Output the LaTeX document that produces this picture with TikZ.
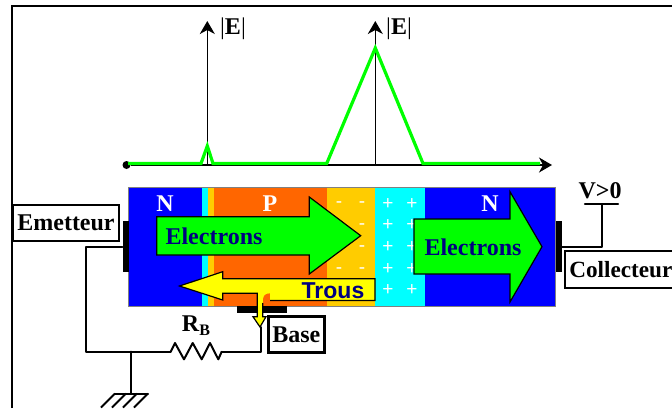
\documentclass[tikz,border=0pt]{standalone}
\usepackage{fontspec}
\setmainfont{Liberation Serif}
\setsansfont{Liberation Sans}
\usepackage{xcolor}
\usetikzlibrary{arrows.meta}
\definecolor{typeN}{HTML}{0000FF}
\definecolor{spaceP}{HTML}{00FFFF}
\definecolor{spaceN}{HTML}{FFCC00}
\definecolor{typeP}{HTML}{FF6600}
\definecolor{elec}{HTML}{00FF00}
\definecolor{hole}{HTML}{FFFF00}
\definecolor{ink}{HTML}{000080}
\tikzset{
  wire/.style={draw=black, line width=2pt, line cap=round, line join=round},
  frame/.style={draw=black, line width=2.4pt},
  axe/.style={draw=black, line width=1.3pt, -{Stealth[length=13pt,width=15pt,inset=4pt]}},
  field/.style={draw=elec, line width=3.2pt, line join=miter},
  flow/.style={draw=black, line width=1.2pt, line join=miter},
  contact/.style={fill=black, inner sep=0pt, minimum width=#1},
  lab/.style={text=black, font=\fontsize{24}{24}\selectfont\bfseries, inner sep=0pt},
  labw/.style={text=white, font=\fontsize{24}{24}\selectfont\bfseries, inner sep=0pt},
  labe/.style={text=ink, font=\fontsize{24}{24}\selectfont\bfseries, inner sep=0pt},
  sign/.style={text=white, font=\fontsize{19}{19}\selectfont\sffamily, inner sep=0pt},
  tag/.style={draw=black, fill=white, line width=2pt, inner sep=0pt, font=\fontsize{24}{24}\selectfont\bfseries},
}
\begin{document}
\begin{tikzpicture}[x=1pt,y=-1pt]
\useasboundingbox (0,0) rectangle (672,408);
\draw[frame] (12,408) -- (12,6) -- (672,6);

% champ
\node[circle, fill=black, inner sep=0pt, minimum size=8pt] (origin) at (126.5,165) {};
\coordinate (xend) at (552,165);
\coordinate (jeB) at (207.3,165);
\coordinate (jeBtop) at (207.3,21);
\coordinate (jc) at (375.3,165);
\coordinate (jctop) at (375.3,21);
\draw[axe] (origin) -- (xend);
\draw[axe] (jeB) -- (jeBtop);
\draw[axe] (jc) -- (jctop);
\draw[field] (128,163.5) -- (201,163.5) -- (207.3,146) -- (213,163.5) -- (326.7,163.5) -- (375.3,48) -- (423,163.5) -- (540,163.5);
\node[lab] (e1) at (233,29) {{\mdseries|}E{\mdseries|}};
\node[lab] (e2) at (399,29) {{\mdseries|}E{\mdseries|}};

% transistor
\fill[typeN] (128.5,187) rectangle (202,306);
\fill[spaceP] (202,187) rectangle (208,306);
\fill[spaceN] (208,187) rectangle (214,306);
\fill[typeP] (214,187) rectangle (327,306);
\fill[spaceN] (327,187) rectangle (375,306);
\fill[spaceP] (375,187) rectangle (425,306);
\fill[typeN] (425,187) rectangle (555,306);
\draw[draw=gray, line width=0.8pt] (128.5,187) rectangle (555,306);
\foreach \y in {205,227,249,271}{
  \node[sign] at (339,\y) {-};
  \node[sign] at (362,\y) {-};
}
\foreach \y in {204,225.5,247.5,269,290}{
  \node[sign] at (388,\y) {+};
  \node[sign] at (412,\y) {+};
}
\node[labw] (n1) at (165,204) {N};
\node[labw] (p1) at (270,204) {P};
\node[labw] (n2) at (490,204) {N};

% contacts
\node[contact=6.3pt, minimum height=51pt] (emc) at (125.8,246.5) {};
\node[contact=6.3pt, minimum height=51pt] (colc) at (558.8,246.5) {};
\node[contact=50pt, minimum height=7pt] (bac) at (262,309.5) {};

% fleches
\draw[flow, fill=elec] (156.7,216.7) -- (309.3,216.7) -- (309.3,197) -- (360.7,235.7) -- (309.3,274) -- (309.3,255) -- (156.7,255) -- cycle;
\draw[flow, fill=elec] (414,219) -- (510,219) -- (510,191.7) -- (542,246.7) -- (510,302) -- (510,274) -- (414,274) -- cycle;
\fill[hole] (179.5,286) -- (222.7,271.7) -- (222.7,278.7) -- (375,278.7) -- (375,300.5) -- (270,300.5) -- (270,293.3) .. controls (264,293.3) and (262.7,296) .. (262.7,303) -- (262.7,316.7) -- (266,316.7) -- (260,327) -- (253,316.7) -- (257.3,316.7) -- (257.3,293.3) -- (222.7,293.3) -- (222.7,300) -- cycle;
\draw[flow] (270,300.5) -- (375,300.5) -- (375,278.7) -- (222.7,278.7) -- (222.7,271.7) -- (179.5,286) -- (222.7,300) -- (222.7,293.3) -- (257.3,293.3) -- (257.3,316.7) -- (253,316.7) -- (260,327) -- (266,316.7) -- (262.7,316.7) -- (262.7,303);
\node[labe] (el1) at (214,236) {Electrons};
\node[labe] (el2) at (473,247) {Electrons};
\node[text=ink, font=\fontsize{23}{23}\selectfont\sffamily\bfseries, inner sep=0pt] (trous) at (333,291) {Trous};

\node[tag, minimum width=106pt, minimum height=36pt] (emetteur) at (66,223) {Emetteur};
\node[tag, minimum width=112pt, minimum height=36.5pt, text width=103.5pt, align=left, font=\fontsize{23.2}{23.2}\selectfont\bfseries] (collecteur) at (621,269.5) {Collecteur};
\node[tag, line width=2.8pt, minimum width=56pt, minimum height=36pt] (base) at (296.3,334.5) {Base};
\node[lab] (vpos) at (600,191) {V>0};
\node[lab] (rb) at (196,326) {R{\fontsize{16}{16}\selectfont\raisebox{-4pt}{B}}};

% circuit
\coordinate (emcorner) at (86,351.7);
\coordinate (junction) at (131.3,351.7);
\coordinate (gnd) at (131.3,393.5);
\coordinate (rbleft) at (170.7,351.7);
\coordinate (rbright) at (221.7,351.7);
\coordinate (basetip) at (261,327);
\coordinate (vbar) at (602,204);
\draw[wire] (emc.west) -| (emcorner) -- (rbleft);
\draw[wire] (rbleft) -- (175,343) -- (184,359.3) -- (192.7,343) -- (201.7,359.3) -- (210,343) -- (218.3,359.3) -- (rbright);
\draw[wire] (rbright) -| (basetip);
\draw[wire] (junction) -- (gnd);
\draw[wire] (115,393.5) -- (148,393.5);
\foreach \x in {115,126,137,148}{
  \draw[wire, line cap=butt] (\x,393.5) -- ++(-14,14);
}
\draw[wire] (colc.east) -| (vbar);
\draw[wire, line width=2.4pt] (585,204) -- (618,204);
\end{tikzpicture}
\end{document}
